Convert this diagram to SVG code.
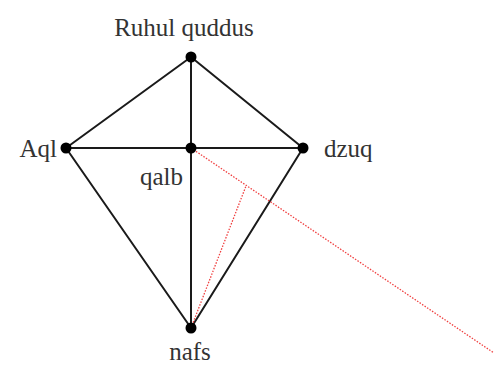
<svg xmlns="http://www.w3.org/2000/svg" width="495" height="365" viewBox="0 0 495 365">
<style>
.edge{stroke:#1a1a1a;stroke-width:2;fill:none;stroke-linecap:round}
.red{stroke:#f04040;stroke-width:1.3;fill:none;stroke-dasharray:1.5 1.5}
.dot{fill:#000}
.lbl{font-family:"Liberation Serif","Times New Roman",serif;font-size:25px;fill:#333}
</style>
<rect width="495" height="365" fill="#fff"/>
<g id="connectors">
<line class="edge" x1="191" y1="57" x2="66" y2="148"/>
<line class="edge" x1="191" y1="57" x2="303" y2="148"/>
<line class="edge" x1="191" y1="57" x2="191" y2="328"/>
<line class="edge" x1="66" y1="148" x2="303" y2="148"/>
<line class="edge" x1="66" y1="148" x2="191" y2="328"/>
<line class="edge" x1="303" y1="148" x2="191" y2="328"/>
<line class="red" x1="191" y1="148" x2="494" y2="353"/>
<line class="red" x1="191" y1="328" x2="246" y2="186"/>
</g>
<g id="ruhul"><circle class="dot" cx="191" cy="57" r="5.5"/><text class="lbl" x="184" y="36" text-anchor="middle">Ruhul quddus</text></g>
<g id="aql"><circle class="dot" cx="66" cy="148" r="5.5"/><text class="lbl" x="57" y="157" text-anchor="end">Aql</text></g>
<g id="qalb"><circle class="dot" cx="191" cy="148" r="5.5"/><text class="lbl" x="183" y="185" text-anchor="end">qalb</text></g>
<g id="dzuq"><circle class="dot" cx="303" cy="148" r="5.5"/><text class="lbl" x="324" y="157">dzuq</text></g>
<g id="nafs"><circle class="dot" cx="191" cy="328" r="5.5"/><text class="lbl" x="190" y="360" text-anchor="middle">nafs</text></g>
</svg>
